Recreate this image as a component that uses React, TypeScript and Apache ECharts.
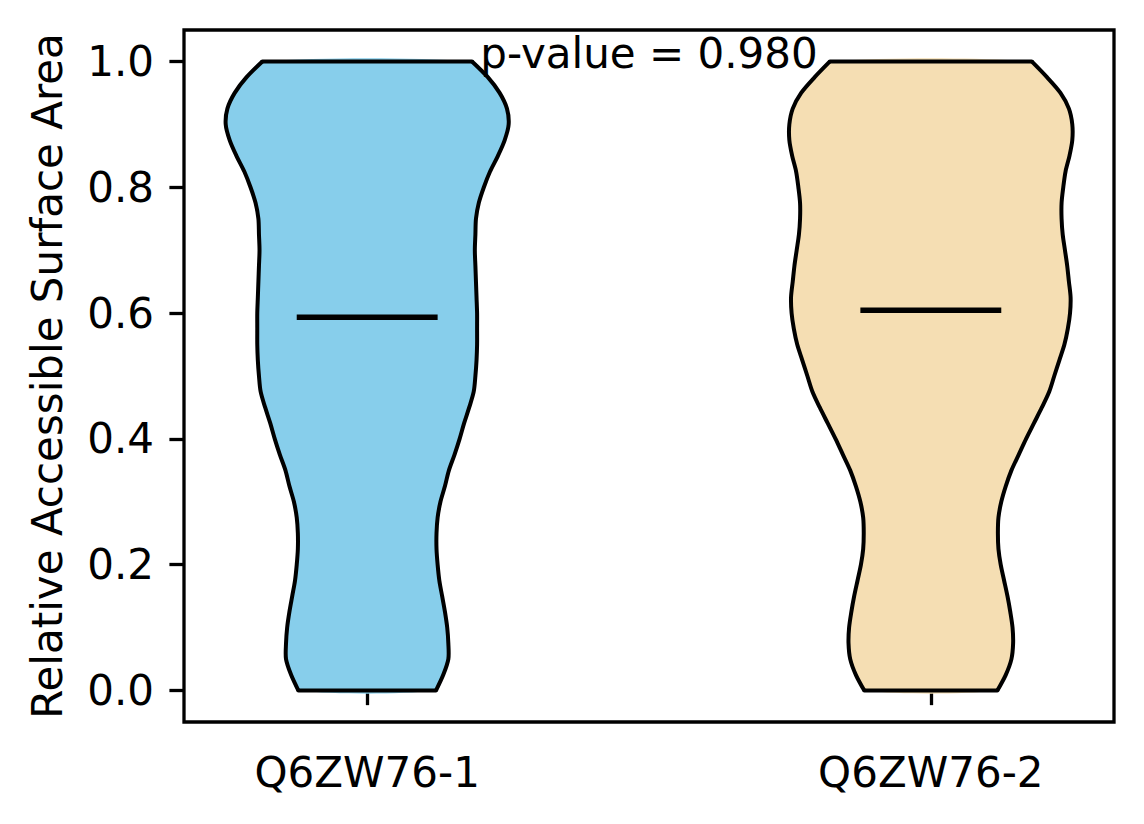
import { useEffect, useRef } from "react";
import * as echarts from "echarts";

// 小提琴图数据：类别、位置、中位数、各高度处的半宽（单位：x 轴刻度）
const categories = ["Q6ZW76-1", "Q6ZW76-2"];
const positions = [1, 2];
const medians = [0.5935, 0.6046];
const fillColors = ["#87CEEB", "#F5DEB3"];
const yTicks = [0, 0.2, 0.4, 0.6, 0.8, 1.0];
const pValueText = "p-value = 0.980";

const levels = [
  0, 0.025, 0.05, 0.075, 0.1, 0.125, 0.15, 0.175, 0.2, 0.225, 0.25, 0.275,
  0.3, 0.325, 0.35, 0.375, 0.4, 0.425, 0.45, 0.475, 0.5, 0.525, 0.55, 0.575,
  0.6, 0.625, 0.65, 0.675, 0.7, 0.725, 0.75, 0.775, 0.8, 0.825, 0.85, 0.875,
  0.9, 0.925, 0.95, 0.975, 1.0,
];

const halfWidth1 = [
  0.122, 0.135, 0.144, 0.144, 0.142, 0.138, 0.133, 0.128, 0.125, 0.123, 0.123,
  0.125, 0.13, 0.138, 0.145, 0.155, 0.164, 0.172, 0.181, 0.189, 0.192, 0.194,
  0.195, 0.195, 0.195, 0.194, 0.193, 0.192, 0.191, 0.192, 0.193, 0.198, 0.207,
  0.218, 0.232, 0.244, 0.251, 0.248, 0.235, 0.214, 0.186,
];

const halfWidth2 = [
  0.118, 0.133, 0.143, 0.146, 0.145, 0.141, 0.136, 0.13, 0.124, 0.12, 0.119,
  0.12, 0.125, 0.133, 0.143, 0.156, 0.169, 0.183, 0.197, 0.21, 0.219, 0.228,
  0.237, 0.243, 0.247, 0.248, 0.245, 0.242, 0.238, 0.234, 0.232, 0.232, 0.235,
  0.239, 0.246, 0.251, 0.251, 0.245, 0.23, 0.206, 0.179,
];

const halfWidths = [halfWidth1, halfWidth2];

const FONT = '"DejaVu Sans", sans-serif';
const FONT_SIZE = 42;

export default function App() {
  const chartRef = useRef<HTMLDivElement>(null);

  useEffect(() => {
    if (!chartRef.current) return;
    const chart = echarts.init(chartRef.current, null, { renderer: "svg" });

    const option = {
      animation: false,
      backgroundColor: "#ffffff",
      grid: {
        left: 184,
        right: 30,
        top: 30,
        bottom: 102,
        show: true,
        borderColor: "#000",
        borderWidth: 3.3,
        backgroundColor: "transparent",
      },
      xAxis: {
        type: "value",
        min: 0.675,
        max: 2.325,
        splitLine: { show: false },
        axisLine: { show: false },
        axisTick: {
          show: true,
          length: 14.6,
          customValues: positions,
          lineStyle: { color: "#000", width: 3.3 },
        },
        axisLabel: {
          show: true,
          customValues: positions,
          margin: 29,
          color: "#000",
          fontSize: FONT_SIZE,
          fontFamily: FONT,
          formatter: (v: number) => categories[Math.round(v) - 1] ?? "",
        },
      },
      yAxis: {
        type: "value",
        min: -0.05,
        max: 1.05,
        name: "Relative Accessible Surface Area",
        nameLocation: "middle",
        nameGap: 116,
        nameTextStyle: { color: "#000", fontSize: FONT_SIZE, fontFamily: FONT },
        splitLine: { show: false },
        axisLine: { show: false },
        axisTick: {
          show: true,
          length: 14.6,
          customValues: yTicks,
          lineStyle: { color: "#000", width: 3.3 },
        },
        axisLabel: {
          show: true,
          customValues: yTicks,
          margin: 30,
          color: "#000",
          fontSize: FONT_SIZE,
          fontFamily: FONT,
          formatter: (v: number) => v.toFixed(1),
        },
      },
      series: [
        {
          type: "custom",
          clip: false,
          data: positions.map((p, i) => [p, medians[i]]),
          renderItem: (params: any, api: any) => {
            const idx = params.dataIndex;
            const pos = positions[idx];
            const hw = halfWidths[idx];
            const right = levels.map((v, k) => api.coord([pos + hw[k], v]));
            const left = levels.map((v, k) => api.coord([pos - hw[k], v]));
            const m1 = api.coord([pos - 0.125, medians[idx]]);
            const m2 = api.coord([pos + 0.125, medians[idx]]);
            const n = levels.length - 1;
            const edge = { stroke: "#000", lineWidth: 4, fill: null, lineJoin: "round" };
            return {
              type: "group",
              children: [
                {
                  type: "polygon",
                  shape: { points: right.concat(left.slice().reverse()), smooth: 0.3 },
                  style: { fill: fillColors[idx], stroke: null },
                },
                { type: "polyline", shape: { points: right, smooth: 0.3 }, style: edge },
                { type: "polyline", shape: { points: left, smooth: 0.3 }, style: edge },
                {
                  type: "line",
                  shape: { x1: left[n][0], y1: left[n][1], x2: right[n][0], y2: right[n][1] },
                  style: { stroke: "#000", lineWidth: 4, lineCap: "round" },
                },
                {
                  type: "line",
                  shape: { x1: left[0][0], y1: left[0][1], x2: right[0][0], y2: right[0][1] },
                  style: { stroke: "#000", lineWidth: 4, lineCap: "round" },
                },
                {
                  type: "line",
                  shape: { x1: m1[0], y1: m1[1], x2: m2[0], y2: m2[1] },
                  style: { stroke: "#000", lineWidth: 5.5 },
                },
              ],
            };
          },
        },
        {
          type: "custom",
          clip: false,
          data: [[1.5, 1.0]],
          renderItem: (params: any, api: any) => {
            const p = api.coord([api.value(0), api.value(1)]);
            return {
              type: "text",
              x: p[0],
              y: p[1] - 8,
              style: {
                text: pValueText,
                fill: "#000",
                font: `${FONT_SIZE}px ${FONT}`,
                align: "center",
                verticalAlign: "middle",
                textAlign: "center",
                textVerticalAlign: "middle",
              },
            };
          },
        },
      ],
    };

    chart.setOption(option);

    return () => {
      chart.dispose();
    };
  }, []);

  return (
    <div
      ref={chartRef}
      style={{
        position: "fixed",
        left: 0,
        top: 0,
        width: 1144,
        height: 824,
        background: "#fff",
      }}
    />
  );
}
